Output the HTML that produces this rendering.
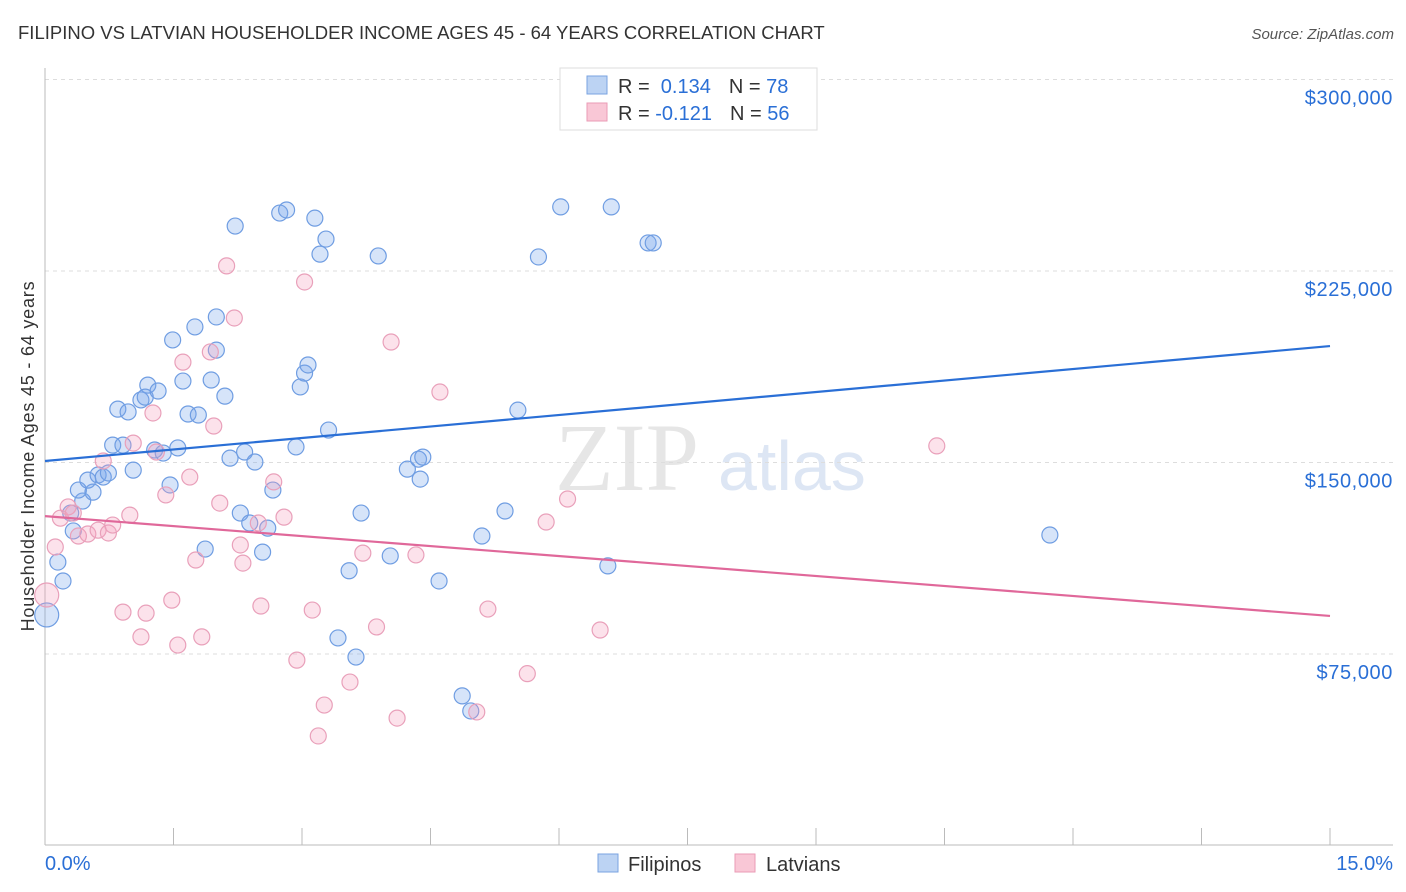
<!DOCTYPE html>
<html><head><meta charset="utf-8">
<style>
body{margin:0;background:#fff;font-family:"Liberation Sans",sans-serif;}
#wrap{position:relative;width:1406px;height:892px;overflow:hidden;}
</style></head><body>
<div id="wrap">
<svg id="svg" width="1406" height="892" xmlns="http://www.w3.org/2000/svg">
<text x="18" y="39" font-size="18.5" fill="#333">FILIPINO VS LATVIAN HOUSEHOLDER INCOME AGES 45 - 64 YEARS CORRELATION CHART</text>
<text x="1394" y="39" font-size="15" fill="#555" font-style="italic" text-anchor="end">Source: ZipAtlas.com</text>
<text x="555" y="490" font-size="96" fill="#e6e6e6" font-family="Liberation Serif">ZIP</text>
<text x="718" y="490" font-size="70" fill="#dde6f4">atlas</text>
<text transform="translate(34,456) rotate(-90)" font-size="18" letter-spacing="0.8" fill="#333" text-anchor="middle">Householder Income Ages 45 - 64 years</text>
<g id="grid"></g><g id="pts"></g><g id="lines"></g>
<g>
<rect x="560" y="68" width="257" height="62" fill="#fff" stroke="#ddd"/>
<rect x="587" y="76" width="20" height="18" fill="#bcd3f3" stroke="#7aa3e0"/>
<rect x="587" y="103" width="20" height="18" fill="#f9c7d6" stroke="#ea9bb6"/>
<text x="618" y="93" font-size="20" fill="#333">R = <tspan fill="#2a6fd6">&#160;0.134</tspan><tspan dx="18" fill="#333">N = </tspan><tspan fill="#2a6fd6">78</tspan></text>
<text x="618" y="120" font-size="20" fill="#333">R = <tspan fill="#2a6fd6">-0.121</tspan><tspan dx="18" fill="#333">N = </tspan><tspan fill="#2a6fd6">56</tspan></text>
</g>
<g>
<rect x="598" y="854" width="20" height="18" fill="#bcd3f3" stroke="#7aa3e0"/>
<text x="628" y="871" font-size="20" fill="#333">Filipinos</text>
<rect x="735" y="854" width="20" height="18" fill="#f9c7d6" stroke="#ea9bb6"/>
<text x="766" y="871" font-size="20" fill="#333">Latvians</text>
</g>
<text x="45" y="870" font-size="20" fill="#2a6fd6">0.0%</text>
<text x="1393" y="870" font-size="20" fill="#2a6fd6" text-anchor="end">15.0%</text>
</svg>
</div>
<script>
const yTicks=[75,150,225,300];
const yTickLabels=["$75,000","$150,000","$225,000","$300,000"];
const blueX=[0.02,0.15,0.21,0.33,0.44,0.39,0.56,0.50,0.62,0.68,0.74,0.30,0.79,0.91,0.85,0.97,1.03,1.12,1.20,1.17,1.32,1.28,1.38,1.46,1.55,1.49,1.61,1.67,1.79,1.75,1.94,2.00,2.00,2.10,1.87,2.22,2.16,2.28,2.33,2.45,2.39,2.54,2.60,2.74,2.82,2.66,2.93,2.98,3.03,3.07,3.15,3.21,3.28,3.31,3.42,3.55,3.63,3.69,3.89,4.03,4.23,4.36,4.41,4.38,4.60,4.87,4.97,5.10,5.37,5.52,5.76,6.02,6.57,6.61,7.04,7.10,11.73];
const blueY=[90.3,111,103.6,123.2,134.9,139.2,138.4,143.1,145.1,144.3,145.9,130.2,156.8,156.8,170.9,169.8,147.0,174.5,180.3,175.6,178.0,154.9,153.7,141.2,155.7,198.0,181.9,169.0,168.6,203.1,182.3,207.0,194.0,176.0,116.1,242.6,151.7,130.2,154.1,150.2,126.3,114.9,124.3,247.7,248.9,139.2,156.1,179.6,185.0,188.2,245.7,231.6,237.5,162.7,81.3,107.6,73.8,130.2,230.9,113.4,147.4,151.3,152.1,143.5,103.6,58.6,52.7,121.2,131.0,170.5,230.5,250.1,109.5,250.1,236.0,236.0,121.6];
const pinkX=[0.02,0.12,0.18,0.27,0.33,0.39,0.50,0.62,0.68,0.74,0.79,0.91,0.99,1.03,1.12,1.18,1.26,1.30,1.41,1.48,1.55,1.61,1.69,1.76,1.83,1.93,1.97,2.04,2.12,2.21,2.28,2.31,2.52,2.49,2.67,2.79,2.94,3.03,3.12,3.19,3.26,3.56,3.71,3.87,4.04,4.11,4.33,4.61,5.04,5.17,5.63,5.85,6.10,6.48,10.41];
const pinkY=[98.1,116.9,128.2,132.6,130.2,121.2,122.0,123.5,150.6,122.4,125.5,91.4,129.4,157.6,81.7,91.0,169.4,154.1,137.3,96.1,78.5,189.3,144.3,111.8,81.7,193.3,164.3,134.1,227.0,206.6,117.7,110.6,93.8,126.3,142.4,128.6,72.6,220.7,92.2,42.9,55.0,64.0,114.5,85.6,197.2,49.9,113.8,177.6,52.3,92.6,67.3,126.7,135.7,84.4,156.5];
const blueTrend=[150.6,195.6];
const pinkTrend=[129.0,89.9];
const NS="http://www.w3.org/2000/svg";
const X=v=>45+v*(1330-45)/15;
const Y=v=>845.5-v*191.5/75;
function mk(tag,attrs,parent){const e=document.createElementNS(NS,tag);for(const k in attrs)e.setAttribute(k,attrs[k]);parent.appendChild(e);return e;}
const grid=document.getElementById('grid');
yTicks.forEach((t,i)=>{
  const l=mk('line',{x1:45,x2:1393,y1:Y(t),y2:Y(t),stroke:'#ddd','stroke-dasharray':'4,4'},grid);
  
  
  const tx=mk('text',{x:1393,y:Y(t)+25,'font-size':20,'letter-spacing':'0.6',fill:'#2a6fd6','text-anchor':'end'},grid);
  tx.textContent=yTickLabels[i];
  
  
});
let ax=mk('line',{x1:45,x2:1393,y1:845,y2:845,stroke:'#bbb'},grid);


let ay=mk('line',{x1:45,x2:45,y1:68,y2:845,stroke:'#bbb'},grid);


for(let i=0;i<=10;i++){const t=mk('line',{x1:X(i*1.5),x2:X(i*1.5),y1:828,y2:845,stroke:'#bbb'},grid);

}
const pts=document.getElementById('pts');
function draw(xs,ys,fill,stroke,name){xs.forEach((x,i)=>{
  const c=mk('circle',{cx:X(x),cy:Y(ys[i]),r:i===0?12:8,fill:fill,stroke:stroke,'stroke-width':1.2},pts);
  
  
});}
draw(blueX,blueY,'rgba(120,165,235,0.3)','#6f9de2','filipino-point');
draw(pinkX,pinkY,'rgba(245,160,190,0.3)','#e9a0ba','latvian-point');
const lines=document.getElementById('lines');
let bl=mk('line',{x1:X(0),y1:Y(blueTrend[0]),x2:X(15),y2:Y(blueTrend[1]),stroke:'#2a6fd6','stroke-width':2.2},lines);


let pl=mk('line',{x1:X(0),y1:Y(pinkTrend[0]),x2:X(15),y2:Y(pinkTrend[1]),stroke:'#e0689a','stroke-width':2.2},lines);


</script>
</body></html>
